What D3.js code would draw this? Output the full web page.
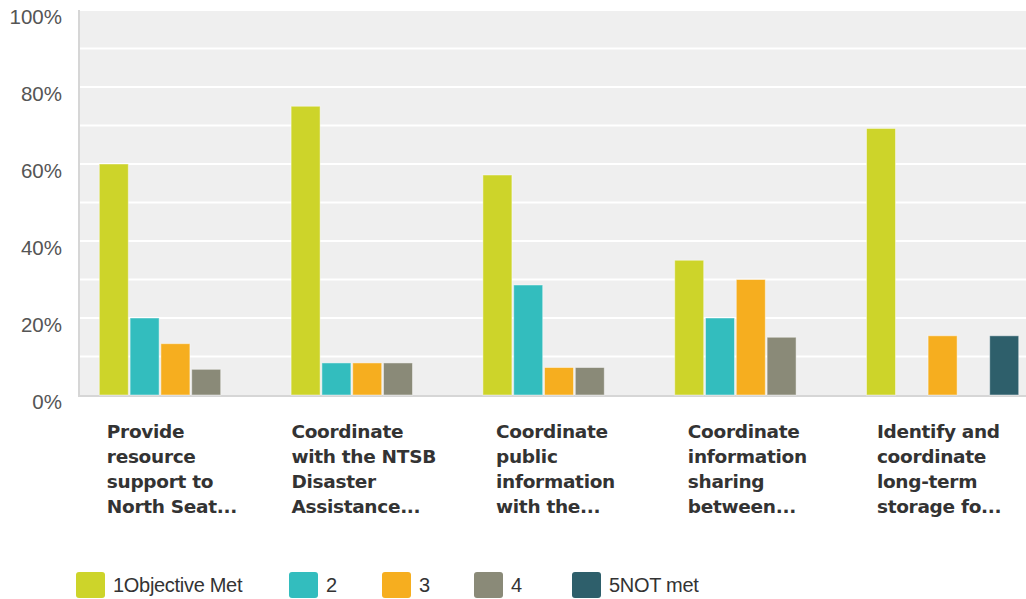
<!DOCTYPE html>
<html>
<head>
<meta charset="utf-8">
<script src="https://cdn.jsdelivr.net/npm/d3@7"></script>
<style>
  html, body { margin: 0; padding: 0; background: #fff; }
  svg { display: block; }
</style>
</head>
<body>
<svg id="chart" width="1026" height="599"></svg>
<script>
// Objectives (x-axis categories), wrapped onto lines
const categories = [
  ["Provide", "resource", "support to", "North Seat..."],
  ["Coordinate", "with the NTSB", "Disaster", "Assistance..."],
  ["Coordinate", "public", "information", "with the..."],
  ["Coordinate", "information", "sharing", "between..."],
  ["Identify and", "coordinate", "long-term", "storage fo..."]
];
const categoryKeys = ["c1", "c2", "c3", "c4", "c5"];

// Rating series
const seriesNames = ["1Objective Met", "2", "3", "4", "5NOT met"];
const seriesColors = ["#cdd42a", "#33bdbe", "#f6ae1f", "#8a8a78", "#2e5f6b"];

// Percent of responses per rating, one array per rating
const rating1 = [60.00, 75.00, 57.14, 35.00, 69.23];
const rating2 = [20.00, 8.33, 28.57, 20.00, 0];
const rating3 = [13.33, 8.33, 7.14, 30.00, 15.38];
const rating4 = [6.67, 8.33, 7.14, 15.00, 0];
const rating5 = [0, 0, 0, 0, 15.38];
const seriesValues = [rating1, rating2, rating3, rating4, rating5];

const yTicks = [0, 20, 40, 60, 80, 100];
const yGrid = [10, 20, 30, 40, 50, 60, 70, 80, 90, 100];

const svg = d3.select("#chart");

const plotLeft = 78, plotRight = 1026, plotTop = 10, plotBottom = 395;

const y = d3.scaleLinear().domain([0, 100]).range([plotBottom, plotTop]);
const x0 = d3.scaleBand().domain(categoryKeys).range([80, 1039]).padding(0);
const x1 = d3.scaleBand().domain(seriesNames).range([19.3, 173.3]).padding(0);

// plot background
svg.append("rect")
  .attr("x", plotLeft).attr("y", plotTop)
  .attr("width", plotRight - plotLeft).attr("height", plotBottom - plotTop)
  .attr("fill", "#efefef");

// horizontal gridlines
svg.append("g").selectAll("line").data(yGrid).join("line")
  .attr("x1", plotLeft + 2).attr("x2", plotRight)
  .attr("y1", d => y(d)).attr("y2", d => y(d))
  .attr("stroke", "#ffffff").attr("stroke-width", 2);

// left and bottom axis lines
svg.append("line")
  .attr("x1", plotLeft + 1).attr("x2", plotLeft + 1)
  .attr("y1", plotTop).attr("y2", plotBottom + 1)
  .attr("stroke", "#d6d6d6").attr("stroke-width", 2);
svg.append("line")
  .attr("x1", plotLeft).attr("x2", plotRight)
  .attr("y1", plotBottom + 1).attr("y2", plotBottom + 1)
  .attr("stroke", "#d6d6d6").attr("stroke-width", 2);

// y-axis tick labels (sit slightly below their gridline)
const yAxis = d3.axisLeft(y).tickValues(yTicks).tickFormat(d => d + "%").tickSize(0).tickPadding(0);
const yAxisG = svg.append("g").attr("transform", "translate(62,6.5)").call(yAxis);
yAxisG.select(".domain").remove();
yAxisG.selectAll("text")
  .attr("font-family", "Liberation Sans, Arial, sans-serif")
  .attr("font-size", 20.5)
  .attr("fill", "#555555")
  .attr("dy", "0.36em");

// bars
const groups = svg.append("g").selectAll("g").data(categoryKeys).join("g")
  .attr("transform", d => `translate(${x0(d)},0)`);

groups.selectAll("rect")
  .data((d, i) => seriesNames.map((s, j) => ({ s, j, v: seriesValues[j][i] })).filter(e => e.v > 0))
  .join("rect")
  .attr("x", e => x1(e.s))
  .attr("y", e => y(e.v))
  .attr("width", x1.bandwidth() - 1.8)
  .attr("height", e => plotBottom - y(e.v))
  .attr("fill", e => seriesColors[e.j])
  .attr("stroke", "rgba(255,255,255,0.45)")
  .attr("stroke-width", 1);

// x-axis category labels (left-aligned block centred on band)
const labelG = svg.append("g");
categoryKeys.forEach((key, i) => {
  const t = labelG.append("text")
    .attr("font-family", "DejaVu Sans, Verdana, sans-serif")
    .attr("font-weight", "bold")
    .attr("font-size", 18.5)
    .attr("letter-spacing", -0.3)
    .attr("fill", "#333333");
  categories[i].forEach((line, k) => {
    t.append("tspan").attr("x", 0).attr("y", 438 + k * 25).text(line);
  });
  let w = 0;
  t.selectAll("tspan").each(function () { w = Math.max(w, this.getComputedTextLength()); });
  const cx = x0(key) + x0.bandwidth() / 2 - 4;
  t.attr("transform", `translate(${cx - w / 2},0)`);
});

// legend
const legendX = [76, 289, 382, 474, 572];
const legend = svg.append("g").selectAll("g").data(seriesNames).join("g")
  .attr("transform", (d, i) => `translate(${legendX[i]},572)`);
legend.append("rect")
  .attr("width", 29).attr("height", 26).attr("rx", 3)
  .attr("fill", (d, i) => seriesColors[i]);
legend.append("text")
  .attr("x", 37).attr("y", 13).attr("dy", "0.36em")
  .attr("font-family", "Liberation Sans, Arial, sans-serif")
  .attr("font-size", 20)
  .attr("letter-spacing", -0.3)
  .attr("fill", "#333333")
  .text(d => d);
</script>
</body>
</html>
